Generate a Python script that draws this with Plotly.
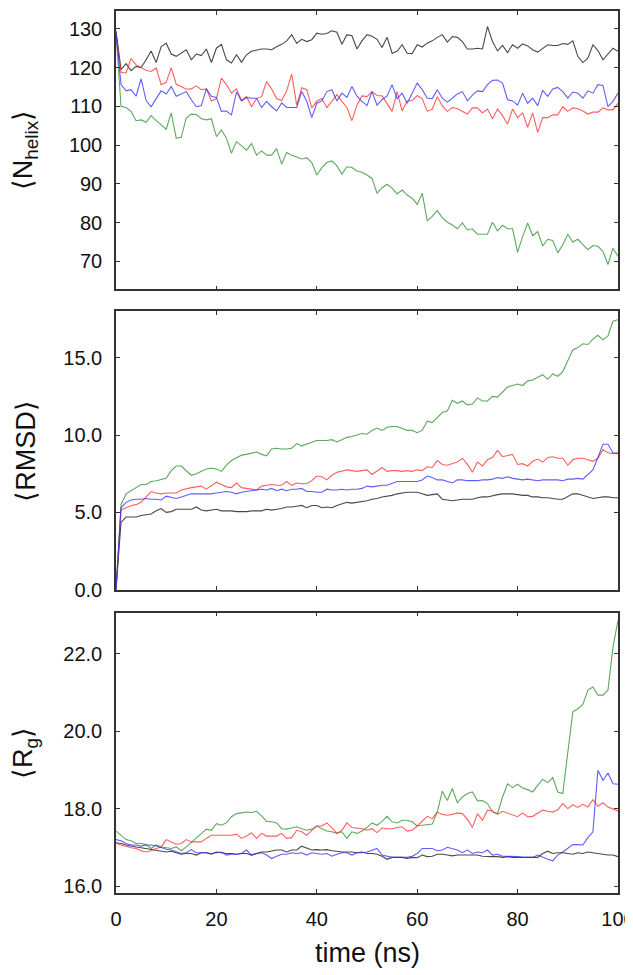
import plotly.graph_objects as go

time_ns = list(range(0, 101))

# Panel 1: <N_helix>
nhelix_black = [129.5, 119.5, 121, 119.2, 120.3, 120, 122, 124.3, 121.3, 125.4, 126.3, 123.5, 122.9, 123.7, 124.6, 122, 123.5, 123.1, 124.8, 121.3,
                125, 126, 122, 121.2, 123.3, 121.4, 123.3, 124.2, 124.6, 124.8, 124.8, 124.6, 125.4, 126, 126.9, 128.5, 126.3, 127.3, 126.7, 127.2,
                128.9, 128.6, 128.8, 129.5, 129.1, 126, 128.5, 128.2, 124.8, 126.9, 128.5, 128.1, 127.3, 125.2, 127.8, 123.7, 124.2, 125.9, 123.7, 123.6,
                125.9, 125.3, 126.3, 126.9, 127.8, 128.5, 126.6, 128, 127.8, 126.7, 124.8, 124.8, 125, 124.8, 130.6, 126.7, 124.3, 125.7, 123.9, 125.9,
                125, 126.1, 125.6, 124.6, 124, 125, 125.9, 125.7, 125.7, 126.2, 126, 126.9, 122.9, 121.3, 122.4, 125.9, 124.4, 122, 123.5, 125, 124.2]
nhelix_red = [129, 118.8, 118.6, 122.3, 120.7, 119.9, 119.3, 119, 119.9, 115.6, 116.2, 120, 115.7, 115.1, 114.4, 114.5, 115.3, 114.3, 114.5, 111.4,
              112, 117.3, 115.6, 113.4, 114.5, 111.5, 112.5, 109.9, 112, 112.5, 116.4, 114.5, 112, 111.5, 114, 118.3, 110.3, 114.8, 114.3, 109.6,
              111.3, 112, 109.7, 111.3, 113, 111.3, 109.7, 106.3, 110.3, 112.7, 112.5, 113.8, 112.8, 112.7, 110.8, 108.7, 113.8, 108.8, 111.4, 111.5,
              112.8, 112, 108.7, 109.3, 112.5, 110.1, 108.7, 109.7, 109.4, 108.8, 108, 109.6, 109.6, 108.3, 109.3, 106.8, 109.3, 107.6, 105.4, 109.3,
              107.1, 108.3, 104.6, 108.3, 103.3, 107.1, 107.1, 107.8, 107.8, 109.9, 108.7, 109.6, 109.4, 108.8, 108, 108.5, 108.5, 109.6, 109.1, 109.1, 110.8]
nhelix_blue = [129, 115.6, 114, 114.3, 112.6, 117.1, 111.5, 109.9, 112, 114, 113.2, 115.1, 112.6, 113.2, 113.8, 111.7, 109.9, 110.2, 114.5, 112.6,
               112.3, 108.7, 108.8, 107.8, 113.7, 111.4, 112.3, 112.1, 112.1, 109.7, 111.3, 109.9, 108.8, 110.9, 109.7, 109.7, 109.7, 113.8, 111.3, 107.1,
               110.8, 111.4, 113.8, 114.3, 111.4, 113.4, 112.3, 115.1, 112.6, 111.3, 110.2, 113.8, 110.3, 111.7, 112.7, 115.6, 112, 113.4, 110.8, 113.4,
               116, 114.3, 112.1, 112, 114.3, 112.1, 111.1, 112.1, 113.2, 113.8, 111.4, 112.9, 114, 113.8, 115.6, 116.7, 116.8, 116, 111.7, 111.4,
               110.3, 113.4, 110.8, 112.1, 110.2, 114.1, 112.6, 114.5, 114.9, 113.8, 112.1, 113.7, 113.4, 112.1, 114, 113.4, 115.6, 115.4, 109.9, 111.3, 113.4]
nhelix_green = [129, 110, 109.7, 108.7, 106.3, 106.5, 105.9, 107.6, 106.3, 105.1, 104.1, 108.3, 101.8, 102, 107, 108, 107.9, 106.8, 106.5, 106.8,
                102.2, 103.9, 101.8, 97.9, 100.9, 99.8, 98.7, 100.4, 97.4, 98.5, 97.4, 97.4, 99.1, 95.1, 98.1, 97.4, 97, 96.4, 96.7, 95.5,
                92.3, 94.2, 95.5, 95.9, 94.7, 92.5, 94.4, 94.2, 93.3, 93, 92.3, 91.4, 87.6, 89, 89.9, 88.9, 87.4, 88.4, 87.1, 86.3,
                84.7, 87.6, 80.5, 81.6, 83.1, 81.3, 80.1, 79.4, 78.4, 79.9, 78.1, 78.4, 77, 77, 77, 80.1, 77.9, 79.3, 78.4, 78.4,
                72.3, 76.4, 79.9, 76.6, 77.7, 74, 75.7, 75.4, 72.2, 74.3, 77, 75, 75.7, 74.3, 73, 74.1, 73.9, 72.6, 69.2, 73.4, 71.3]

# Panel 2: <RMSD>
rmsd_black = [0, 4.35, 4.7, 4.7, 4.7, 4.8, 4.85, 4.9, 5.1, 5.25, 5, 5.05, 5.2, 5.2, 5.2, 5.2, 5.35, 5.15, 5.1, 5.15,
              5.2, 5.1, 5.1, 5.1, 5.05, 5.05, 5.05, 5.1, 5.1, 5.1, 5.2, 5.15, 5.2, 5.25, 5.35, 5.35, 5.4, 5.45, 5.3, 5.45,
              5.45, 5.3, 5.35, 5.3, 5.45, 5.55, 5.65, 5.6, 5.65, 5.7, 5.75, 5.85, 5.9, 6, 6.05, 6.1, 6.2, 6.25, 6.3, 6.3,
              6.3, 6.2, 6.1, 6.15, 6.2, 5.85, 5.8, 5.75, 5.8, 5.85, 5.85, 5.85, 5.95, 6, 6, 6.1, 6.15, 6.2, 6.2, 6.2,
              6.15, 6.1, 6.1, 6, 6, 5.95, 5.95, 5.9, 5.85, 5.85, 6, 6.2, 6.2, 6.1, 5.95, 5.9, 5.95, 6, 6, 5.95, 5.95]
rmsd_red = [0, 5.15, 5.3, 5.45, 5.5, 5.65, 6, 6.35, 6.25, 6.2, 6.25, 6.25, 6.25, 6.45, 6.55, 6.6, 6.65, 6.7, 6.5, 6.7,
            6.95, 6.8, 6.65, 6.6, 6.9, 6.6, 6.55, 6.5, 6.45, 6.7, 6.75, 6.8, 6.75, 6.75, 7, 6.75, 6.9, 6.85, 6.85, 7.05,
            7.35, 7.3, 7.1, 7.4, 7.6, 7.7, 7.75, 7.7, 7.65, 7.7, 7.75, 7.45, 7.7, 7.9, 7.65, 7.7, 7.7, 7.65, 7.7, 7.65,
            7.75, 7.7, 7.95, 7.9, 8.35, 8.1, 8.05, 8.15, 8.25, 8.5, 8.1, 7.6, 8.25, 8, 8.4, 8.55, 9, 8.6, 8.7, 8.75,
            8.1, 8.15, 8, 8.3, 8.45, 8.25, 8.55, 8.6, 8.5, 8.5, 8.05, 8.4, 8.5, 8.5, 8.4, 8.3, 8.5, 9.05, 8.85, 8.8, 8.85]
rmsd_blue = [0, 5.3, 5.65, 5.8, 5.85, 5.85, 5.9, 5.85, 5.85, 5.8, 6.05, 5.95, 5.9, 6, 6.1, 6.2, 6.2, 6.2, 6.2, 6.2,
             6.25, 6.3, 6.35, 6.3, 6.2, 6.3, 6.35, 6.4, 6.45, 6.5, 6.45, 6.55, 6.4, 6.5, 6.4, 6.5, 6.5, 6.55, 6.35, 6.35,
             6.3, 6.3, 6.5, 6.45, 6.45, 6.5, 6.45, 6.5, 6.5, 6.55, 6.7, 6.65, 6.7, 6.75, 6.75, 6.85, 7, 7, 7, 7,
             7, 7.1, 7.35, 7.25, 7.1, 7.1, 7, 6.9, 7.1, 7.1, 7.05, 7.05, 7.05, 7.1, 7.1, 7.15, 7.25, 7.2, 7.3, 7.2,
             7.15, 7.1, 7.15, 7.1, 7.05, 7.1, 7.1, 7.1, 7.1, 7.05, 7.15, 7.15, 7.2, 7.15, 7.45, 7.75, 8.55, 9.4, 9.4, 8.85, 8.8]
rmsd_green = [0, 5.5, 6.2, 6.4, 6.6, 6.8, 6.8, 7, 7.05, 7.15, 7.2, 7.7, 8, 8, 7.7, 7.4, 7.5, 7.65, 7.8, 7.85,
              7.8, 7.65, 8.05, 8.35, 8.55, 8.7, 8.75, 8.85, 8.9, 8.75, 8.65, 9.1, 9.15, 9.1, 9.1, 9.15, 9.45, 9.3, 9.4, 9.55,
              9.65, 9.65, 9.65, 9.7, 9.55, 9.7, 9.85, 9.9, 10, 10.1, 10.05, 10.3, 10.45, 10.3, 10.5, 10.55, 10.55, 10.45, 10.3, 10.3,
              10.15, 10.3, 10.9, 10.8, 11.1, 11.45, 11.55, 12.25, 12.05, 12.2, 11.95, 12, 12.4, 12.2, 12.2, 12.5, 12.45, 12.8, 13.1, 13.2,
              13.3, 13.2, 13.5, 13.55, 13.75, 13.9, 13.6, 13.95, 13.8, 14.1, 14.8, 15.5, 15.65, 15.9, 15.85, 16.2, 16.45, 16.15, 16.4, 17.35, 17.45]

# Panel 3: <R_g>
rg_black = [17.12, 17.1, 17.06, 17.03, 17.01, 16.99, 16.97, 16.94, 16.93, 16.9, 16.88, 16.9, 16.86, 16.82, 16.84, 16.84, 16.8, 16.86, 16.86, 16.82,
            16.88, 16.86, 16.84, 16.84, 16.82, 16.84, 16.84, 16.8, 16.84, 16.88, 16.88, 16.9, 16.93, 16.93, 16.88, 16.93, 16.93, 17.03, 16.99, 16.93,
            16.94, 16.93, 16.94, 16.91, 16.9, 16.88, 16.88, 16.88, 16.86, 16.88, 16.84, 16.84, 16.82, 16.77, 16.69, 16.74, 16.74, 16.74, 16.71, 16.74,
            16.73, 16.8, 16.76, 16.77, 16.82, 16.82, 16.8, 16.78, 16.8, 16.8, 16.8, 16.8, 16.8, 16.77, 16.76, 16.76, 16.76, 16.74, 16.76, 16.74,
            16.74, 16.74, 16.74, 16.74, 16.74, 16.84, 16.9, 16.84, 16.86, 16.86, 16.84, 16.82, 16.86, 16.84, 16.88, 16.86, 16.84, 16.82, 16.8, 16.8, 16.76]
rg_red = [17.1, 17.06, 17.01, 16.99, 16.97, 16.91, 16.88, 16.91, 16.97, 17.01, 17.2, 17.14, 17.08, 17.1, 17.2, 17.14, 17.14, 17.14, 17.23, 17.31,
          17.31, 17.31, 17.31, 17.31, 17.34, 17.23, 17.29, 17.37, 17.23, 17.36, 17.29, 17.29, 17.29, 17.36, 17.23, 17.25, 17.44, 17.4, 17.31, 17.44,
          17.55, 17.55, 17.63, 17.51, 17.36, 17.44, 17.63, 17.51, 17.5, 17.48, 17.44, 17.48, 17.38, 17.5, 17.48, 17.48, 17.51, 17.53, 17.42, 17.44,
          17.55, 17.67, 17.8, 17.74, 17.91, 17.85, 17.83, 17.85, 17.89, 17.87, 17.72, 17.51, 17.87, 17.7, 17.96, 17.94, 17.85, 17.93, 17.89, 17.85,
          17.79, 17.89, 17.79, 17.8, 17.89, 17.96, 17.93, 17.91, 17.97, 18.13, 18.0, 18.1, 18.03, 18.11, 18.04, 18.23, 18.06, 18.15, 18.04, 18.0, 17.94]
rg_blue = [17.2, 17.17, 17.1, 17.06, 17.06, 17.03, 17.06, 17.06, 17.04, 16.99, 16.95, 16.93, 16.88, 16.84, 16.86, 16.94, 16.86, 16.86, 16.86, 16.84,
           16.86, 16.88, 16.8, 16.82, 16.82, 16.84, 16.93, 16.8, 16.84, 16.86, 16.8, 16.71, 16.77, 16.82, 16.82, 16.86, 16.84, 16.86, 16.8, 16.86,
           16.84, 16.82, 16.84, 16.77, 16.82, 16.86, 16.86, 16.8, 16.86, 16.86, 16.88, 16.93, 16.97, 16.8, 16.77, 16.74, 16.74, 16.74, 16.74, 16.77,
           16.84, 16.97, 16.97, 16.97, 16.91, 16.93, 17.0, 16.97, 16.93, 16.86, 16.93, 16.84, 16.88, 16.86, 16.93, 16.8, 16.82, 16.77, 16.77, 16.76,
           16.76, 16.74, 16.74, 16.74, 16.8, 16.74, 16.69, 16.65, 16.8, 16.88, 16.97, 17.07, 17.07, 17.06, 17.25, 17.4, 18.99, 18.73, 18.92, 18.64, 18.63]
rg_green = [17.42, 17.31, 17.2, 17.17, 17.1, 17.1, 17.07, 16.97, 17.06, 17.01, 16.99, 16.97, 17.01, 16.91, 17.01, 17.12, 17.23, 17.36, 17.47, 17.44,
            17.61, 17.57, 17.63, 17.79, 17.87, 17.89, 17.91, 17.9, 17.93, 17.81, 17.67, 17.66, 17.63, 17.48, 17.47, 17.5, 17.53, 17.48, 17.44, 17.47,
            17.55, 17.48, 17.42, 17.4, 17.36, 17.4, 17.23, 17.4, 17.36, 17.42, 17.51, 17.63, 17.57, 17.67, 17.8, 17.66, 17.63, 17.7, 17.7, 17.66,
            17.55, 17.57, 17.59, 17.6, 17.91, 18.45, 18.21, 18.52, 18.15, 18.3, 18.39, 18.43, 18.2, 18.21, 18.13, 17.91, 17.87, 18.3, 18.64, 18.54,
            18.63, 18.53, 18.49, 18.43, 18.6, 18.76, 18.67, 18.8, 18.43, 18.39, 19.45, 20.5, 20.58, 20.69, 21.06, 21.14, 20.93, 20.93, 21.06, 22.17, 22.86]

col_black = "rgba(40,40,40,0.85)"
col_red = "rgba(255,40,40,0.75)"
col_blue = "rgba(40,40,255,0.75)"
col_green = "rgba(40,140,40,0.75)"

panels = [
    ("y", [nhelix_black, nhelix_green, nhelix_red, nhelix_blue]),
    ("y2", [rmsd_black, rmsd_green, rmsd_red, rmsd_blue]),
    ("y3", [rg_black, rg_green, rg_red, rg_blue]),
]
colors = [col_black, col_green, col_red, col_blue]

fig = go.Figure()
xaxes = ["x", "x2", "x3"]
for (ya, series), xa in zip(panels, xaxes):
    for s, c in zip(series, colors):
        fig.add_trace(go.Scatter(x=time_ns, y=s, mode="lines", xaxis=xa, yaxis=ya,
                                 line=dict(color=c, width=1.1), showlegend=False, hoverinfo="skip"))

FONT = "Liberation Sans, Arial, Helvetica, sans-serif"
frame = dict(showline=True, linecolor="#333333", linewidth=1.5, mirror="ticks",
             ticks="inside", ticklen=4, tickcolor="#333333", tickwidth=1,
             showgrid=False, zeroline=False, tickfont=dict(family=FONT, size=20, color="#111"))

doms = [[0.6845, 1.0], [0.3438, 0.6596], [0.0, 0.3178]]

fig.update_layout(
    width=633, height=975,
    margin=dict(l=108, r=23, t=1, b=90),
    paper_bgcolor="white", plot_bgcolor="white",
    font=dict(family=FONT, color="#111"),
    xaxis=dict(domain=[0, 1], anchor="y", range=[0, 100], dtick=20, showticklabels=False, **frame),
    xaxis2=dict(domain=[0, 1], anchor="y2", range=[0, 100], dtick=20, showticklabels=False, **frame),
    xaxis3=dict(domain=[0, 1], anchor="y3", range=[0, 100], dtick=20, showticklabels=True, ticklabelstandoff=7, **frame),
    yaxis=dict(domain=doms[0], anchor="x", range=[62.8, 134.6], tickvals=[70, 80, 90, 100, 110, 120, 130],
               ticklabelstandoff=8, **frame),
    yaxis2=dict(domain=doms[1], anchor="x2", range=[0, 18.0], tickvals=[0, 5, 10, 15], tickformat=".1f",
                ticklabelstandoff=8, **frame),
    yaxis3=dict(domain=doms[2], anchor="x3", range=[15.82, 23.06], tickvals=[16, 18, 20, 22], tickformat=".1f",
                ticklabelstandoff=8, **frame),
)

title_font = dict(family=FONT, size=27, color="#111")
ylabels = ["⟨N<sub>helix</sub>⟩", "⟨RMSD⟩", "⟨R<sub>g</sub>⟩"]
for lab, d in zip(ylabels, doms):
    fig.add_annotation(text=lab, textangle=-90, x=-0.181, xref="paper", y=(d[0] + d[1]) / 2, yref="paper",
                       xanchor="center", yanchor="middle", showarrow=False, font=title_font)

fig.add_annotation(text="time (ns)", x=0.5, xref="paper", y=-0.068, yref="paper",
                   xanchor="center", yanchor="middle", showarrow=False, font=title_font)

fig.write_html("out.html")
